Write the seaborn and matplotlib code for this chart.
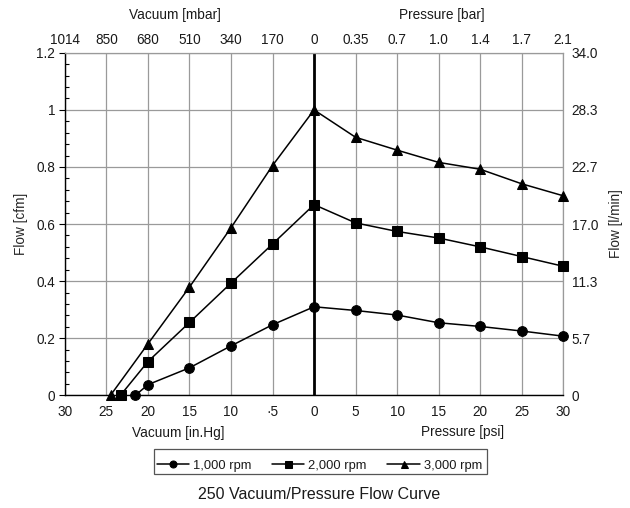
import pandas as pd
import matplotlib
matplotlib.use("Agg")
import matplotlib.pyplot as plt
from matplotlib.patches import Rectangle
import seaborn as sns

# Values (x < 0 is vacuum in in.Hg, x > 0 is pressure in psi)
x_1000 = [-21.5, -20, -15, -10, -5, 0, 5, 10, 15, 20, 25, 30]
flow_1000 = [0, 0.037, 0.096, 0.173, 0.247, 0.31, 0.297, 0.281, 0.254, 0.241, 0.225, 0.207]
x_2000 = [-23.3, -20, -15, -10, -5, 0, 5, 10, 15, 20, 25, 30]
flow_2000 = [0, 0.118, 0.255, 0.393, 0.53, 0.668, 0.604, 0.574, 0.551, 0.52, 0.486, 0.452]
x_3000 = [-24.5, -20, -15, -10, -5, 0, 5, 10, 15, 20, 25, 30]
flow_3000 = [0, 0.18, 0.379, 0.587, 0.805, 1.0, 0.904, 0.859, 0.816, 0.792, 0.741, 0.699]
series_names = ["1,000 rpm", "2,000 rpm", "3,000 rpm"]

x_ticks = [-30, -25, -20, -15, -10, -5, 0, 5, 10, 15, 20, 25, 30]
bottom_labels = ["30", "25", "20", "15", "10", "·5", "0", "5", "10", "15", "20", "25", "30"]
top_labels = ["1014", "850", "680", "510", "340", "170", "0", "0.35", "0.7", "1.0", "1.4", "1.7", "2.1"]
y_ticks = [0, 0.2, 0.4, 0.6, 0.8, 1.0, 1.2]
left_labels = ["0", "0.2", "0.4", "0.6", "0.8", "1", "1.2"]
right_labels = ["0", "5.7", "11.3", "17.0", "22.7", "28.3", "34.0"]

df = pd.concat([
    pd.DataFrame({"x": x_1000, "flow": flow_1000, "series": series_names[0]}),
    pd.DataFrame({"x": x_2000, "flow": flow_2000, "series": series_names[1]}),
    pd.DataFrame({"x": x_3000, "flow": flow_3000, "series": series_names[2]}),
])

sns.set_style("white")
plt.rcParams["font.family"] = ["Liberation Sans", "DejaVu Sans"]
plt.rcParams["text.color"] = "#1a1a1a"
fs = 9.8

fig = plt.figure(figsize=(6.3, 5.08), dpi=100)
ax = fig.add_axes([0.103, 0.222, 0.791, 0.674])

grid_col = "#9a9a9a"
for xt in x_ticks:
    ax.axvline(xt, color=grid_col, lw=0.9, zorder=0)
for yt in y_ticks:
    ax.axhline(yt, color=grid_col, lw=0.9, zorder=0)
ax.axvline(0, color="black", lw=2.0, zorder=1)

sns.lineplot(data=df, x="x", y="flow", hue="series", style="series",
             palette=["black"] * 3, markers=["o", "s", "^"], dashes=False,
             markersize=7, markeredgecolor="black", linewidth=1.1,
             sort=False, ax=ax, legend=True, clip_on=False, zorder=3)

ax.set_xlim(-30, 30)
ax.set_ylim(0, 1.2)
ax.set_xticks(x_ticks)
ax.set_xticklabels(bottom_labels)
ax.set_yticks(y_ticks)
ax.set_yticklabels(left_labels)
ax.set_yticks([i * 0.04 for i in range(31)], minor=True)
ax.tick_params(axis="y", which="major", direction="out", length=4, width=0.8, pad=3,
               labelsize=fs, color="black", labelcolor="#1a1a1a")
ax.tick_params(axis="y", which="minor", direction="in", length=3, width=0.8, color="black", left=True)
ax.tick_params(axis="x", length=0, pad=7, labelsize=fs, labelcolor="#1a1a1a")
ax.set_xlabel("")
ax.set_ylabel("Flow [cfm]", fontsize=fs, labelpad=6)

for side in ["top", "right"]:
    ax.spines[side].set_color(grid_col)
    ax.spines[side].set_linewidth(0.9)
for side in ["left", "bottom"]:
    ax.spines[side].set_color("black")
    ax.spines[side].set_linewidth(1.0)

# right axis in l/min
ax_r = ax.twinx()
ax_r.set_ylim(0, 1.2)
ax_r.set_yticks(y_ticks)
ax_r.set_yticklabels(right_labels)
ax_r.tick_params(axis="y", length=0, pad=6, labelsize=fs, labelcolor="#1a1a1a")
ax_r.set_ylabel("Flow [l/min]", fontsize=fs, labelpad=8)
for s in ax_r.spines.values():
    s.set_visible(False)

# top axis in mbar / bar
ax_t = ax.twiny()
ax_t.set_xlim(-30, 30)
ax_t.set_xticks(x_ticks)
ax_t.set_xticklabels(top_labels)
ax_t.tick_params(axis="x", length=0, pad=4, labelsize=fs, labelcolor="#1a1a1a")
for s in ax_t.spines.values():
    s.set_visible(False)

fig.text(0.278, 0.970, "Vacuum [mbar]", ha="center", va="center", fontsize=fs)
fig.text(0.702, 0.970, "Pressure [bar]", ha="center", va="center", fontsize=fs)
fig.text(0.283, 0.148, "Vacuum [in.Hg]", ha="center", va="center", fontsize=fs)
fig.text(0.735, 0.150, "Pressure [psi]", ha="center", va="center", fontsize=fs)

handles, labels = ax.get_legend_handles_labels()
ax.legend_.remove()
fig.legend(handles, labels, loc="center", bbox_to_anchor=(0.507, 0.083), ncol=3,
           frameon=False, fontsize=9.3, handlelength=2.5, handletextpad=0.3,
           columnspacing=1.6, markerscale=0.72)
fig.patches.append(Rectangle((154 / 630, 1 - 474 / 508), 333 / 630, 25 / 508,
                             transform=fig.transFigure, fill=False,
                             edgecolor="#555555", lw=0.9))

fig.text(0.506, 0.026, "250 Vacuum/Pressure Flow Curve", ha="center", va="center", fontsize=11.5)

fig.savefig("out.png", dpi=100)
